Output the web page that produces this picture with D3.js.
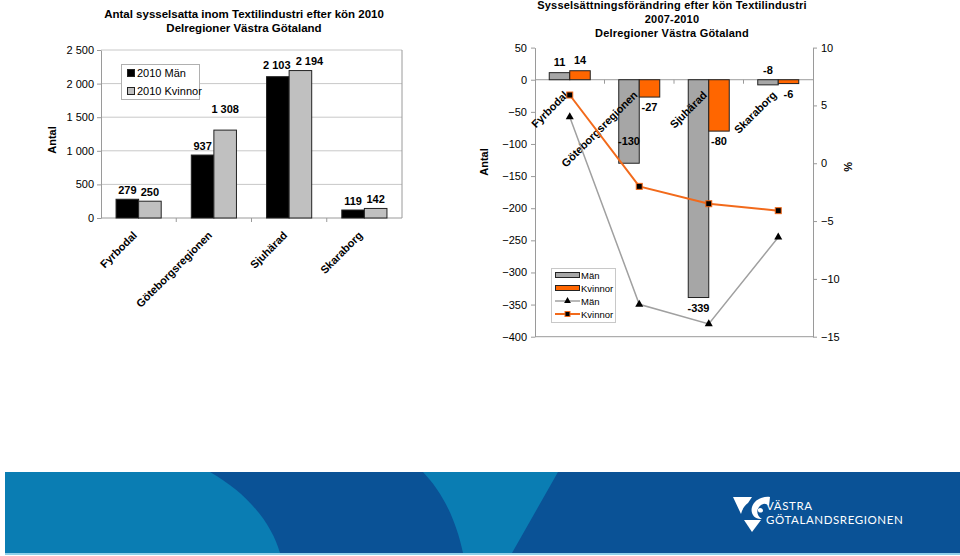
<!DOCTYPE html>
<html>
<head>
<meta charset="utf-8">
<script src="https://cdn.jsdelivr.net/npm/d3@7"></script>
<style>
  body { margin: 0; background: #fff; }
  svg { display: block; font-family: "Liberation Sans", Arial, sans-serif; }
</style>
</head>
<body>
<script>
// ---------- DATA ----------
const categories = ["Fyrbodal", "Göteborgsregionen", "Sjuhärad", "Skaraborg"];
// Left chart: employed in textile industry 2010
const men2010 = [279, 937, 2103, 119];
const women2010 = [250, 1308, 2194, 142];
const leftTicks = [0, 500, 1000, 1500, 2000, 2500];
// Right chart: change 2007-2010 (count, bars) and percent (lines)
const menChange = [11, -130, -339, -8];
const womenChange = [14, -27, -80, -6];
const menChangePct = [4.0, -12.2, -13.9, -6.4];
const womenChangePct = [5.9, -2.0, -3.5, -4.1];
const rightTicks = [50, 0, -50, -100, -150, -200, -250, -300, -350, -400];
const pctTicks = [10, 5, 0, -5, -10, -15];

const leftTitle = ["Antal sysselsatta inom Textilindustri efter kön 2010", "Delregioner Västra Götaland"];
const rightTitle = ["Sysselsättningsförändring efter kön Textilindustri", "2007-2010", "Delregioner Västra Götaland"];

// ---------- SETUP ----------
const locale = d3.formatLocale({decimal: ",", thousands: " ", grouping: [3], currency: ["", ""]});
const fmt = locale.format(",");
const FONT = '"Liberation Sans", Arial, sans-serif';
const AXIS = "#9a9a9a";

const svg = d3.select("body").append("svg").attr("width", 960).attr("height", 556);

function styleAxis(g) {
  g.select(".domain").attr("stroke", AXIS);
  g.selectAll(".tick line").attr("stroke", AXIS);
  g.selectAll(".tick text").attr("fill", "#000").style("font-size", "11px").style("font-family", FONT);
}

// ================= LEFT CHART =================
const xL = d3.scaleBand().domain(categories).range([101, 402]);
const gw = xL.bandwidth() * 0.6;
const subL = d3.scaleBand().domain(["m", "w"]).range([0, gw]);
const offL = (xL.bandwidth() - gw) / 2;
const yL = d3.scaleLinear().domain([0, 2500]).range([218, 50]);

const L = svg.append("g");
// title
L.append("text").attr("x", 244).attr("y", 18).attr("text-anchor", "middle")
  .style("font-size", "11.5px").style("font-weight", "bold").text(leftTitle[0]);
L.append("text").attr("x", 244).attr("y", 32).attr("text-anchor", "middle")
  .style("font-size", "11.5px").style("font-weight", "bold").text(leftTitle[1]);

// gridlines
L.append("g").selectAll("line").data(leftTicks.filter(d => d > 0)).join("line")
  .attr("x1", 101).attr("x2", 402).attr("y1", d => yL(d)).attr("y2", d => yL(d))
  .attr("stroke", "#c8c8c8");
// right border
L.append("line").attr("x1", 402).attr("x2", 402).attr("y1", yL(2500)).attr("y2", yL(0)).attr("stroke", AXIS);

// y axis
L.append("g").attr("transform", "translate(101,0)")
  .call(d3.axisLeft(yL).tickValues(leftTicks).tickFormat(fmt).tickSize(4).tickPadding(3).tickSizeOuter(0))
  .call(styleAxis);
// x axis line + ticks
L.append("line").attr("x1", 101).attr("x2", 402).attr("y1", yL(0)).attr("y2", yL(0)).attr("stroke", AXIS);
L.append("g").selectAll("line").data(categories.slice(1)).join("line")
  .attr("x1", d => xL(d)).attr("x2", d => xL(d)).attr("y1", yL(0)).attr("y2", yL(0) + 4).attr("stroke", AXIS);

// bars
const leftSeries = [
  {key: "m", values: men2010, fill: "#000000"},
  {key: "w", values: women2010, fill: "#c0c0c0"}
];
leftSeries.forEach(s => {
  L.append("g").selectAll("rect").data(s.values).join("rect")
    .attr("x", (d, i) => xL(categories[i]) + offL + subL(s.key))
    .attr("y", d => yL(d))
    .attr("width", subL.bandwidth())
    .attr("height", d => yL(0) - yL(d))
    .attr("fill", s.fill).attr("stroke", "#222").attr("stroke-width", 1);
});
// value labels (label placement nudges, in px)
const leftLift = {"w1": 12, "m2": 3, "w2": 1};
const leftShift = {"w2": 9, "m2": -1};
leftSeries.forEach(s => {
  L.append("g").selectAll("text").data(s.values).join("text")
    .attr("x", (d, i) => xL(categories[i]) + offL + subL(s.key) + subL.bandwidth() / 2 + (leftShift[s.key + i] || 0))
    .attr("y", (d, i) => yL(d) - 5 - (leftLift[s.key + i] || 0))
    .attr("text-anchor", "middle")
    .style("font-size", "11px").style("font-weight", "bold")
    .text(d => fmt(d));
});
// category labels
L.append("g").selectAll("text").data(categories).join("text")
  .attr("transform", d => `translate(${xL(d) + xL.bandwidth() / 2 - 1},${yL(0) + 18}) rotate(-45)`)
  .attr("text-anchor", "end")
  .style("font-size", "11px").style("font-weight", "bold")
  .text(d => d);
// y label
L.append("text").attr("transform", "translate(56,140) rotate(-90)").attr("text-anchor", "middle")
  .style("font-size", "11px").style("font-weight", "bold").text("Antal");

// legend
const legL = L.append("g");
legL.append("rect").attr("x", 121.5).attr("y", 64.5).attr("width", 78).attr("height", 35)
  .attr("fill", "#fff").attr("stroke", "#b0b0b0");
leftSeries.forEach((s, i) => {
  legL.append("rect").attr("x", 127.5).attr("y", 69.5 + i * 18).attr("width", 7).attr("height", 7)
    .attr("fill", s.fill).attr("stroke", "#222");
  legL.append("text").attr("x", 137).attr("y", 77 + i * 18)
    .style("font-size", "11px").text(i === 0 ? "2010 Män" : "2010 Kvinnor");
});

// ================= RIGHT CHART =================
const xR = d3.scaleBand().domain(categories).range([535, 813]);
const gwR = xR.bandwidth() * 0.59;
const subR = d3.scaleBand().domain(["m", "w"]).range([0, gwR]);
const offR = (xR.bandwidth() - gwR) / 2;
const yR = d3.scaleLinear().domain([-400, 50]).range([336.7, 47.6]);
const yP = d3.scaleLinear().domain([-15, 10]).range([336.7, 47.6]);

const R = svg.append("g");
rightTitle.forEach((t, i) => {
  R.append("text").attr("x", 672).attr("y", 9 + i * 14).attr("text-anchor", "middle")
    .style("font-size", "11px").style("font-weight", "bold").style("letter-spacing", "0.2px").text(t);
});

// axes
R.append("g").attr("transform", "translate(535,0)")
  .call(d3.axisLeft(yR).tickValues(rightTicks).tickSize(4).tickPadding(4).tickSizeOuter(0))
  .call(styleAxis);
R.append("g").attr("transform", "translate(813,0)")
  .call(d3.axisRight(yP).tickValues(pctTicks).tickSize(4).tickPadding(4).tickSizeOuter(0))
  .call(styleAxis);
R.append("line").attr("x1", 535).attr("x2", 813).attr("y1", yR(-400)).attr("y2", yR(-400)).attr("stroke", AXIS);
R.append("line").attr("x1", 535).attr("x2", 813).attr("y1", yR(0)).attr("y2", yR(0)).attr("stroke", AXIS);
R.append("g").selectAll("line").data(categories.slice(1)).join("line")
  .attr("x1", d => xR(d)).attr("x2", d => xR(d)).attr("y1", yR(0)).attr("y2", yR(0) + 4).attr("stroke", AXIS);

const rightSeries = [
  {key: "m", values: menChange, fill: "#a6a6a6"},
  {key: "w", values: womenChange, fill: "#ff6600"}
];
rightSeries.forEach(s => {
  R.append("g").selectAll("rect").data(s.values).join("rect")
    .attr("x", (d, i) => xR(categories[i]) + offR + subR(s.key))
    .attr("y", d => yR(Math.max(0, d)))
    .attr("width", subR.bandwidth())
    .attr("height", d => Math.abs(yR(d) - yR(0)))
    .attr("fill", s.fill).attr("stroke", "#222").attr("stroke-width", 1);
});

// category labels (drawn over bars)
R.append("g").selectAll("text").data(categories).join("text")
  .attr("transform", d => `translate(${xR(d) + xR.bandwidth() / 2 - 1},${yR(0) + 16}) rotate(-45)`)
  .attr("text-anchor", "end")
  .style("font-size", "11px").style("font-weight", "bold")
  .text(d => d);

// value labels (placement nudges, in px)
const rightNudge = {"m1": -32, "m3": -25};
rightSeries.forEach(s => {
  R.append("g").selectAll("text").data(s.values).join("text")
    .attr("x", (d, i) => xR(categories[i]) + offR + subR(s.key) + subR.bandwidth() / 2)
    .attr("y", (d, i) => (d >= 0 ? yR(d) - 7 : yR(d) + 14) + (rightNudge[s.key + i] || 0))
    .attr("text-anchor", "middle")
    .style("font-size", "11px").style("font-weight", "bold")
    .text(d => d);
});

// lines (percent)
const cx = i => xR(categories[i]) + xR.bandwidth() / 2;
R.append("path").datum(menChangePct)
  .attr("d", d3.line().x((d, i) => cx(i)).y(d => yP(d)))
  .attr("fill", "none").attr("stroke", "#a0a0a0").attr("stroke-width", 1.5);
R.append("path").datum(womenChangePct)
  .attr("d", d3.line().x((d, i) => cx(i)).y(d => yP(d)))
  .attr("fill", "none").attr("stroke", "#f26a1b").attr("stroke-width", 2);
const tri = d3.symbol().type(d3.symbolTriangle).size(28);
R.append("g").selectAll("path").data(menChangePct).join("path")
  .attr("transform", (d, i) => `translate(${cx(i)},${yP(d)})`)
  .attr("d", tri).attr("fill", "#000");
R.append("g").selectAll("rect").data(womenChangePct).join("rect")
  .attr("x", (d, i) => cx(i) - 3).attr("y", d => yP(d) - 3).attr("width", 6).attr("height", 6)
  .attr("fill", "#000").attr("stroke", "#f26a1b").attr("stroke-width", 1);

// y labels
R.append("text").attr("transform", "translate(488,162) rotate(-90)").attr("text-anchor", "middle")
  .style("font-size", "11px").style("font-weight", "bold").text("Antal");
R.append("text").attr("transform", "translate(844,167) rotate(90)").attr("text-anchor", "middle")
  .style("font-size", "11px").style("font-weight", "bold").text("%");

// legend
const legR = R.append("g");
legR.append("rect").attr("x", 551.5).attr("y", 268.5).attr("width", 64).attr("height", 54)
  .attr("fill", "#fff").attr("stroke", "#c8c8c8");
const legItems = [
  {type: "bar", fill: "#a6a6a6", label: "Män"},
  {type: "bar", fill: "#ff6600", label: "Kvinnor"},
  {type: "line", stroke: "#a0a0a0", marker: "tri", label: "Män"},
  {type: "line", stroke: "#f26a1b", marker: "sq", label: "Kvinnor"}
];
legItems.forEach((it, i) => {
  const y = 275 + i * 13;
  if (it.type === "bar") {
    legR.append("rect").attr("x", 555.5).attr("y", y - 2.5).attr("width", 24).attr("height", 5)
      .attr("fill", it.fill).attr("stroke", "#222");
  } else {
    legR.append("line").attr("x1", 555).attr("x2", 580).attr("y1", y).attr("y2", y)
      .attr("stroke", it.stroke).attr("stroke-width", it.marker === "sq" ? 2 : 1.5);
    if (it.marker === "tri") {
      legR.append("path").attr("transform", `translate(567.5,${y})`).attr("d", d3.symbol().type(d3.symbolTriangle).size(20)).attr("fill", "#000");
    } else {
      legR.append("rect").attr("x", 565).attr("y", y - 2.5).attr("width", 5).attr("height", 5).attr("fill", "#000").attr("stroke", "#f26a1b");
    }
  }
  legR.append("text").attr("x", 581).attr("y", y + 3.5).style("font-size", "9.5px").text(it.label);
});

// ================= FOOTER BAND =================
const F = svg.append("g");
F.append("rect").attr("x", 5).attr("y", 472).attr("width", 955).attr("height", 81).attr("fill", "#0a5296");
F.append("path").attr("d", "M5,472 L210,472 C250,495 272,525 280,553 L5,553 Z").attr("fill", "#0a7db3");
F.append("path").attr("d", "M423,472 L558,472 L512,553 L463,553 C455,515 440,490 423,472 Z").attr("fill", "#0a7db3");
F.append("rect").attr("x", 5).attr("y", 553).attr("width", 955).attr("height", 2).attr("fill", "#8fd0ea");
// logo
const logo = F.append("g").attr("fill", "#fff");
logo.append("path").attr("d", "M733,497 L752,497 L748,503 C744,506 742,510 741,514 Z");
logo.append("path").attr("d", "M770,497 C762,496 754,500 752,507 C750,514 755,520 762,519 C757,516 756,511 759,507 C762,503 766,503 769,506 Z");
logo.append("path").attr("d", "M758,509 C760,507 763,508 763,511 C762,513 759,513 758,511 Z");
logo.append("path").attr("d", "M744,520 L761,520 L752,532 Z");
F.append("text").attr("x", 766).attr("y", 510).attr("fill", "#fff")
  .style("font-family", "Lato, 'DejaVu Sans', sans-serif").style("font-size", "11.5px").style("letter-spacing", "0.6px").text("VÄSTRA");
F.append("text").attr("x", 766).attr("y", 524).attr("fill", "#fff")
  .style("font-family", "Lato, 'DejaVu Sans', sans-serif").style("font-size", "11.5px").style("letter-spacing", "0.6px").text("GÖTALANDSREGIONEN");
</script>
</body>
</html>
